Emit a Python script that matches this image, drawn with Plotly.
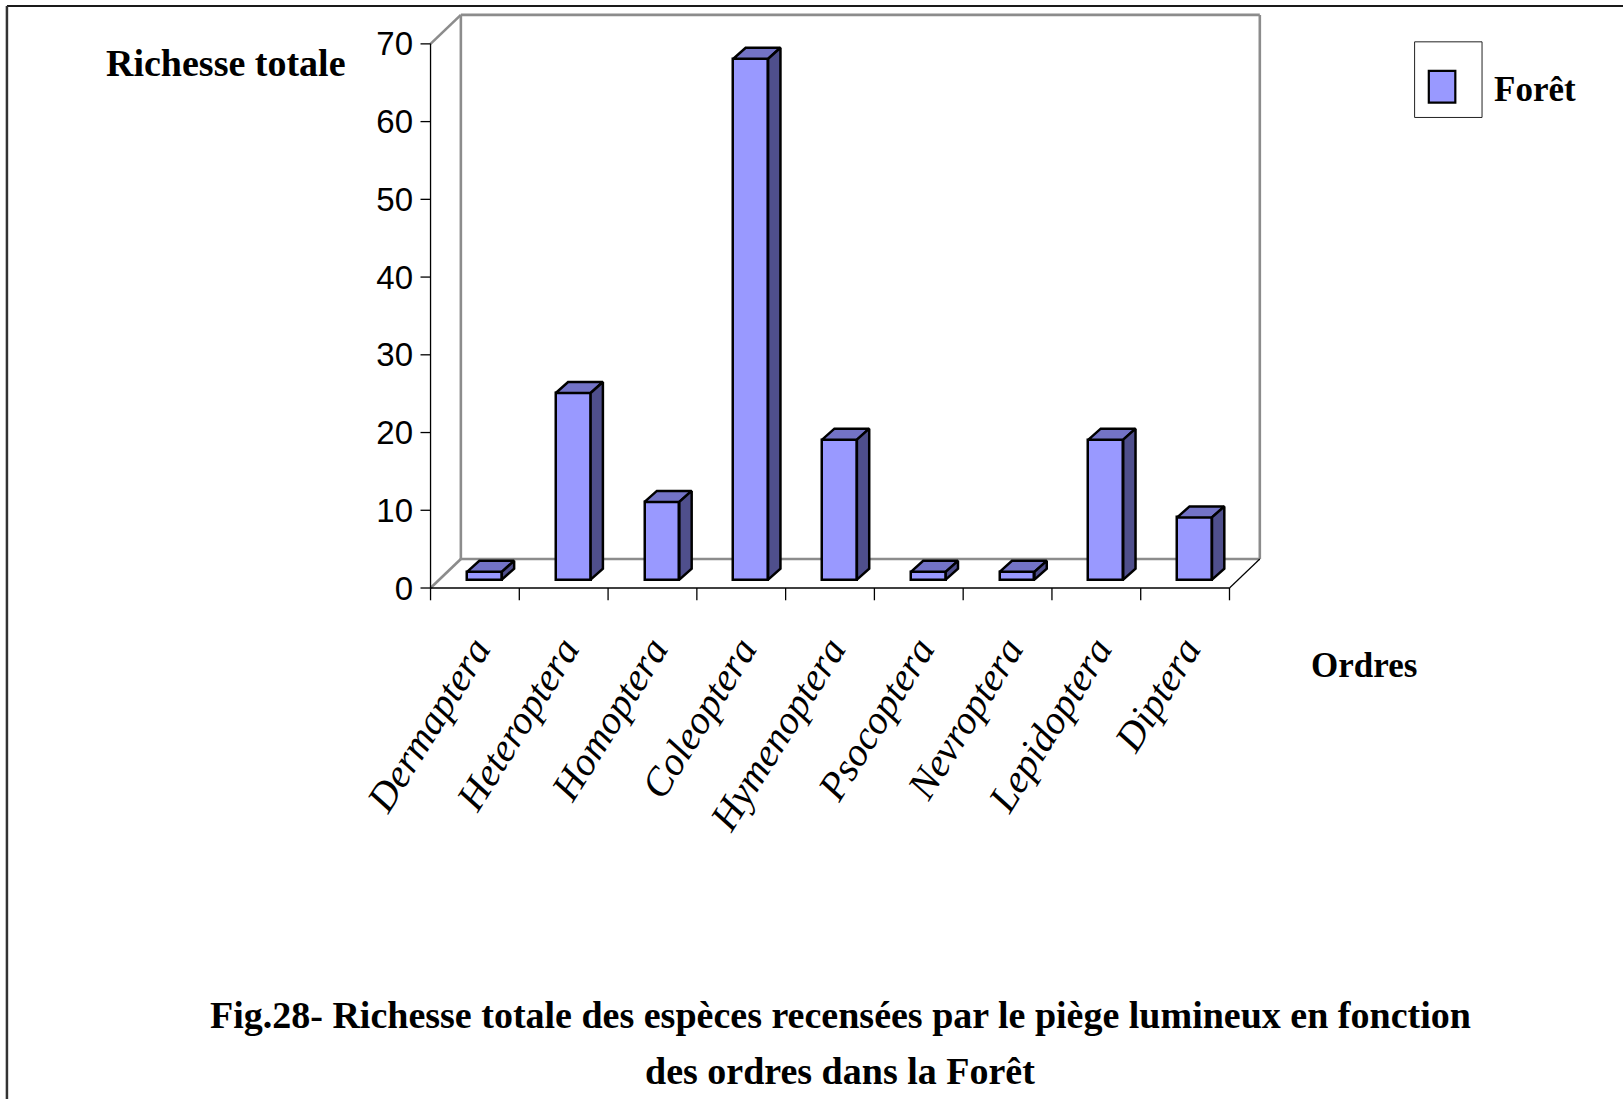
import plotly.graph_objects as go

# Species richness per insect order caught by the light trap (forest site)
ORDERS = ["Dermaptera", "Heteroptera", "Homoptera", "Coleoptera", "Hymenoptera",
          "Psocoptera", "Nevroptera", "Lepidoptera", "Diptera"]
RICHESSE = [1, 24, 10, 67, 18, 1, 1, 18, 8]
Y_TICKS = [0, 10, 20, 30, 40, 50, 60, 70]
SERIES_NAME = "Forêt"

FACE = "#9999FF"
TOP = "#7373C6"
SIDE = "#4F4F8C"
WALL = "#8C8C8C"
INK = "black"

# pseudo-3D geometry, in axis units
N = len(ORDERS)
YMAX = Y_TICKS[-1]
WALL_DX, WALL_DY = 0.3415, 3.73      # depth of the floor / back wall
BAR_SHIFT, BAR_W = 0.107, 0.392      # bar front face offset and width
BAR_BASE = 1.08                      # bars stand at mid depth
BAR_DX, BAR_DY = 0.1386, 1.415       # bar depth
XR = [-0.13, 9.40]
YR = [-1.8, 74.1]

W, H = 1623, 1099
ML, MT = 419.17, 11.88
PW, PH = 845.6, 589.8
MR = W - ML - PW
MB = H - MT - PH


def xp(px):
    return (px - ML) / PW


def yp(py):
    return (MT + PH - py) / PH


fig = go.Figure()

centers = [i + 0.5 + BAR_SHIFT for i in range(N)]
fig.add_trace(go.Bar(
    x=centers, y=RICHESSE, base=BAR_BASE, width=BAR_W, name=SERIES_NAME,
    marker=dict(color=FACE, line=dict(color=INK, width=2.5)),
    showlegend=False, hoverinfo="skip",
))

for xc, v in zip(centers, RICHESSE):
    xl, xr = xc - BAR_W / 2, xc + BAR_W / 2
    yb, yt = BAR_BASE, BAR_BASE + v
    top = ([xl, xr, xr + BAR_DX, xl + BAR_DX, xl],
           [yt, yt, yt + BAR_DY, yt + BAR_DY, yt])
    side = ([xr, xr, xr + BAR_DX, xr + BAR_DX, xr],
            [yb, yt, yt + BAR_DY, yb + BAR_DY, yb])
    for (px_, py_), col in ((top, TOP), (side, SIDE)):
        fig.add_trace(go.Scatter(
            x=px_, y=py_, mode="lines", fill="toself", fillcolor=col,
            line=dict(color=INK, width=2.5), showlegend=False, hoverinfo="skip",
        ))

shapes = []


def seg(x0, y0, x1, y1, color, width):
    shapes.append(dict(type="line", xref="x", yref="y", x0=x0, y0=y0, x1=x1, y1=y1,
                       line=dict(color=color, width=width), layer="below"))


# back wall and floor
seg(WALL_DX, WALL_DY, WALL_DX, YMAX + WALL_DY, WALL, 2.6)
seg(WALL_DX, YMAX + WALL_DY, N + WALL_DX, YMAX + WALL_DY, WALL, 2.6)
seg(N + WALL_DX, WALL_DY, N + WALL_DX, YMAX + WALL_DY, WALL, 2.6)
seg(WALL_DX, WALL_DY, N + WALL_DX, WALL_DY, WALL, 2.6)
seg(0, YMAX, WALL_DX, YMAX + WALL_DY, WALL, 2.6)
seg(0, 0, WALL_DX, WALL_DY, WALL, 2.6)
seg(N, 0, N + WALL_DX, WALL_DY, INK, 1.2)
# front axes and tick marks
seg(0, 0, 0, YMAX, INK, 1.3)
seg(0, 0, N, 0, INK, 1.3)
for t in Y_TICKS:
    seg(-0.113, t, 0, t, INK, 1.3)
for i in range(N + 1):
    seg(i, 0, i, -1.58, INK, 1.3)

# outer frame
shapes.append(dict(type="line", xref="paper", yref="paper", x0=xp(7.3), y0=yp(6),
                   x1=xp(W + 5), y1=yp(6), line=dict(color="#1a1a1a", width=2)))
shapes.append(dict(type="line", xref="paper", yref="paper", x0=xp(7.3), y0=yp(6),
                   x1=xp(7.3), y1=yp(H + 5), line=dict(color="#333333", width=2.5)))

# legend: framed swatch with the series name beside it
shapes.append(dict(type="rect", xref="paper", yref="paper", x0=xp(1414.3), y0=yp(41.7),
                   x1=xp(1481.7), y1=yp(117.3), line=dict(color="#222222", width=1)))
shapes.append(dict(type="rect", xref="paper", yref="paper", x0=xp(1428.5), y0=yp(70.8),
                   x1=xp(1455), y1=yp(102.5), fillcolor=FACE,
                   line=dict(color=INK, width=2.2)))

serif_bold = dict(family="Liberation Serif, Times New Roman, serif", color="black")

annotations = [
    dict(text="<b>Richesse totale</b>", x=xp(226), y=yp(63), xref="paper", yref="paper",
         xanchor="center", yanchor="middle", showarrow=False, font=dict(size=38, **serif_bold)),
    dict(text="<b>Ordres</b>", x=xp(1364), y=yp(665), xref="paper", yref="paper",
         xanchor="center", yanchor="middle", showarrow=False, font=dict(size=35, **serif_bold)),
    dict(text="<b>" + SERIES_NAME + "</b>", x=xp(1492), y=yp(89), xref="paper", yref="paper",
         xanchor="left", yanchor="middle", showarrow=False, font=dict(size=35, **serif_bold)),
    dict(text="<b>Fig.28- Richesse totale des espèces recensées par le piège lumineux en fonction</b>",
         x=xp(840), y=yp(1015), xref="paper", yref="paper", xanchor="center", yanchor="middle",
         showarrow=False, font=dict(size=38, **serif_bold)),
    dict(text="<b>des ordres dans la Forêt</b>", x=xp(840), y=yp(1071), xref="paper", yref="paper",
         xanchor="center", yanchor="middle", showarrow=False, font=dict(size=38, **serif_bold)),
]

fig.update_layout(
    width=W, height=H, autosize=False,
    margin=dict(l=ML, r=MR, t=MT, b=MB, pad=0),
    paper_bgcolor="white", plot_bgcolor="white",
    template="none", showlegend=False, bargap=0,
    shapes=shapes, annotations=annotations,
    xaxis=dict(range=XR, showgrid=False, zeroline=False, showline=False, automargin=False,
               tickmode="array", tickvals=[i + 0.5 for i in range(N)], ticktext=ORDERS,
               tickangle=-58, ticks="", ticklabelstandoff=15,
               tickfont=dict(family="Liberation Serif, Times New Roman, serif", size=40,
                             color="black", style="italic")),
    yaxis=dict(range=YR, showgrid=False, zeroline=False, showline=False, automargin=False,
               tickmode="array", tickvals=Y_TICKS, ticks="", ticklabelstandoff=5,
               tickfont=dict(family="Liberation Sans Narrow, Arial Narrow, Liberation Sans, sans-serif",
                             size=33, color="black")),
)

fig.write_html("out.html")
